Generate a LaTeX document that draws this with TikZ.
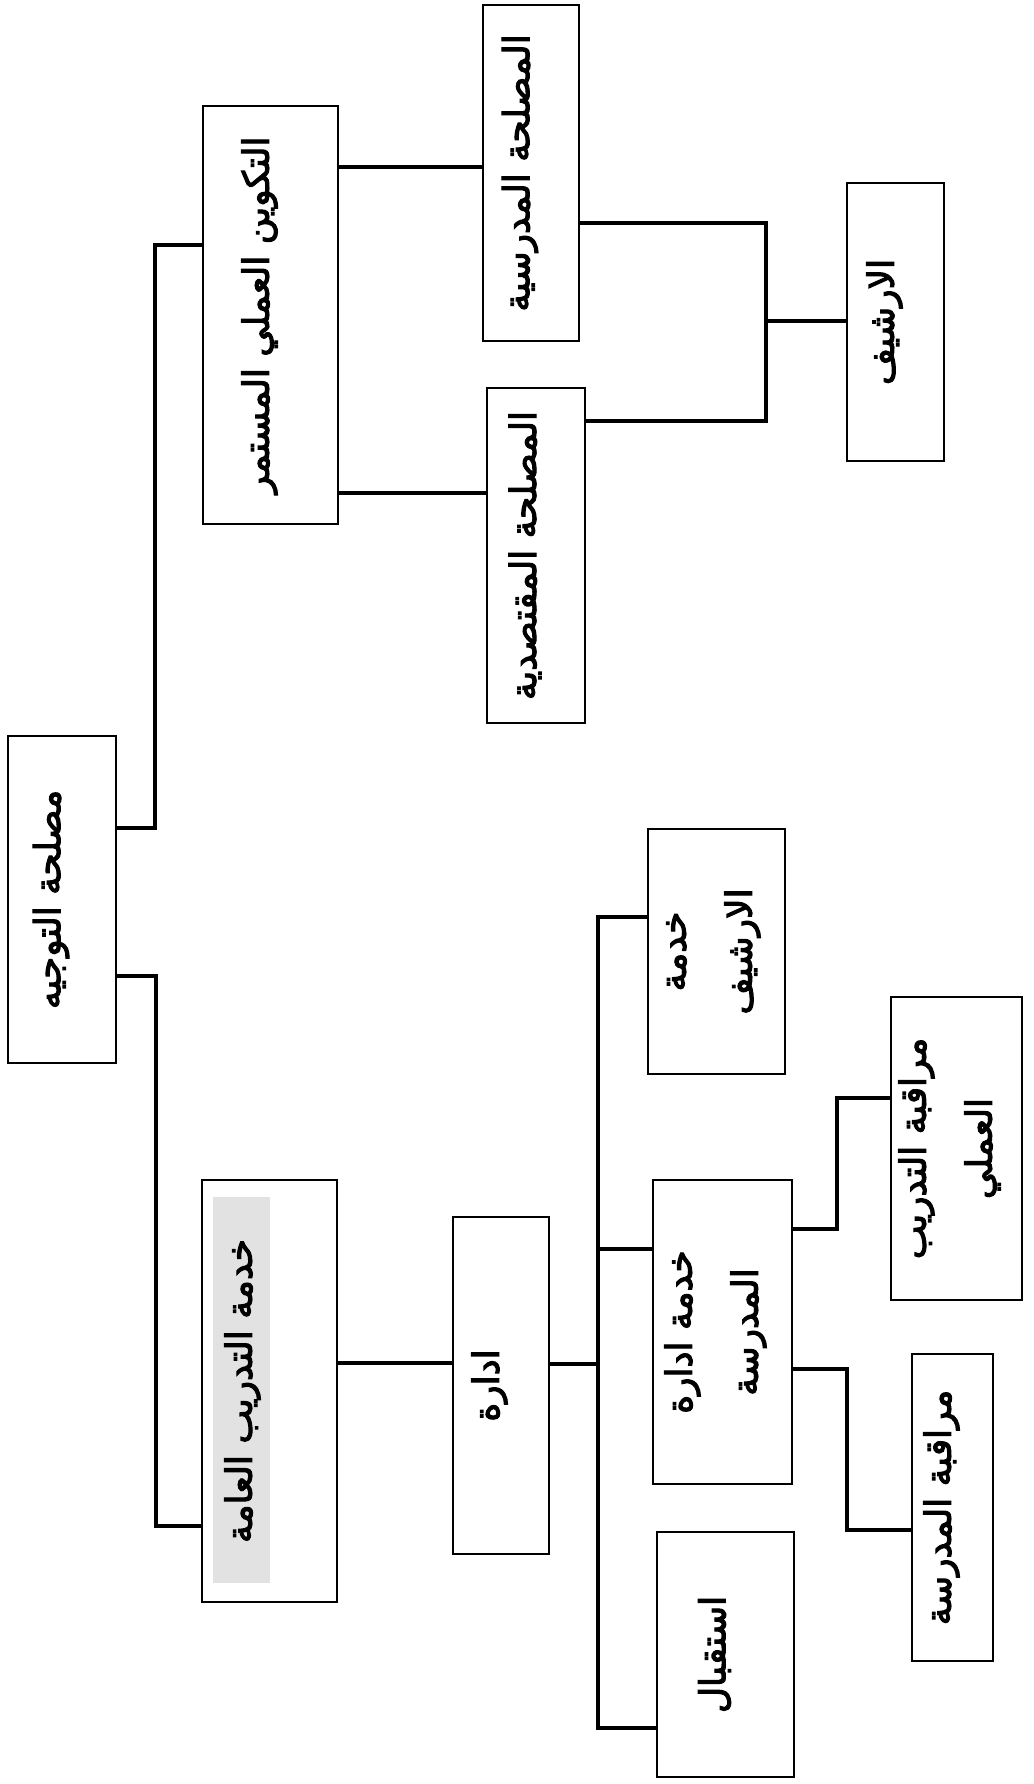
\documentclass[tikz,border=0pt]{standalone}
\usepackage{fontspec}
\TeXXeTstate=1
\newfontfamily\arabicfont[Script=Arabic,FakeBold=3]{DejaVu Sans}
\newcommand\artxt[1]{\rotatebox{90}{\arabicfont\fontsize{36}{46}\selectfont\beginR #1\endR}}
\newcommand\artwo[2]{\rotatebox{90}{\arabicfont\fontsize{36}{66}\selectfont\begin{tabular}{@{}c@{}}\beginR #1\endR\\\beginR #2\endR\end{tabular}}}
\definecolor{hlgray}{HTML}{E2E2E2}
\begin{document}
\begin{tikzpicture}[x=1pt,y=-1pt,
  box/.style={draw, line width=2pt, inner sep=0pt, outer sep=0pt, anchor=center},
  txt/.style={inner sep=0pt, anchor=center, xshift=-11pt},
  conn/.style={line width=3.2pt, line join=miter}]
\useasboundingbox (0,0) rectangle (1033,1784);
\fill[white] (0,0) rectangle (1033,1784);
% boxes
\node[box, minimum width=108pt, minimum height=327pt] (root) at (62,899.5) {};
\node[box, minimum width=135pt, minimum height=418pt] (tc) at (270.5,315) {};
\node[box, minimum width=135pt, minimum height=422pt] (ts) at (269.5,1391) {};
\fill[hlgray] (213,1197) rectangle (270,1583);
\node[box, minimum width=96pt, minimum height=336pt] (md) at (531,173) {};
\node[box, minimum width=98pt, minimum height=335pt] (mq) at (536,555.5) {};
\node[box, minimum width=97pt, minimum height=278pt] (ar) at (895.5,322) {};
\node[box, minimum width=96pt, minimum height=337pt] (id) at (500.5,1385.5) {};
\node[box, minimum width=137pt, minimum height=245pt] (kha) at (716.5,951.5) {};
\node[box, minimum width=139pt, minimum height=304pt] (kid) at (722.5,1332) {};
\node[box, minimum width=137pt, minimum height=245pt] (ist) at (725.5,1654.5) {};
\node[box, minimum width=131pt, minimum height=303pt] (mt) at (956.5,1148.5) {};
\node[box, minimum width=81pt, minimum height=307pt] (mm) at (952.5,1507.5) {};
% texts
\node[txt] (roott) at (root.center) {\artxt{مصلحة التوجيه}};
\node[txt] (tct) at (tc.center) {\artxt{التكوين العملي المستمر}};
\node[txt, xshift=-16pt] (tst) at (ts.center) {\artxt{خدمة التدريب العامة}};
\node[txt] (mdt) at (md.center) {\artxt{المصلحة المدرسية}};
\node[txt] (mqt) at (mq.center) {\artxt{المصلحة المقتصدية}};
\node[txt] (art) at (ar.center) {\artxt{الارشيف}};
\node[txt] (idt) at (id.center) {\artxt{ادارة}};
\node[txt] (khat) at (kha.center) {\artwo{خدمة}{الارشيف}};
\node[txt] (kidt) at (kid.center) {\artwo{خدمة ادارة}{المدرسة}};
\node[txt] (istt) at (ist.center) {\artxt{استقبال}};
\node[txt] (mtt) at (mt.center) {\artwo{مراقبة التدريب}{العملي}};
\node[txt] (mmt) at (mm.center) {\artxt{مراقبة المدرسة}};
% connectors
\coordinate (j1) at (766,321);
\draw[conn] (root.east |- 0,828) -- (155,828) -- (155,245) -- (tc.west |- 0,245);
\draw[conn] (root.east |- 0,976) -- (156,976) -- (156,1526) -- (ts.west |- 0,1526);
\draw[conn] (tc.east |- 0,167) -- (md.west |- 0,167);
\draw[conn] (tc.east |- 0,493) -- (mq.west |- 0,493);
\draw[conn] (md.east |- 0,223) -- (766,223) -- (766,421) -- (mq.east |- 0,421);
\draw[conn] (j1) -- (ar.west |- j1);
\draw[conn] (ts.east |- 0,1363) -- (id.west |- 0,1363);
\draw[conn] (id.east |- 0,1364) -- (598,1364);
\draw[conn] (kha.west |- 0,917) -- (598,917) -- (598,1728) -- (ist.west |- 0,1728);
\draw[conn] (598,1249) -- (kid.west |- 0,1249);
\draw[conn] (kid.east |- 0,1229) -- (837,1229) -- (837,1098) -- (mt.west |- 0,1098);
\draw[conn] (kid.east |- 0,1369) -- (847,1369) -- (847,1530) -- (mm.west |- 0,1530);
\end{tikzpicture}
\end{document}
